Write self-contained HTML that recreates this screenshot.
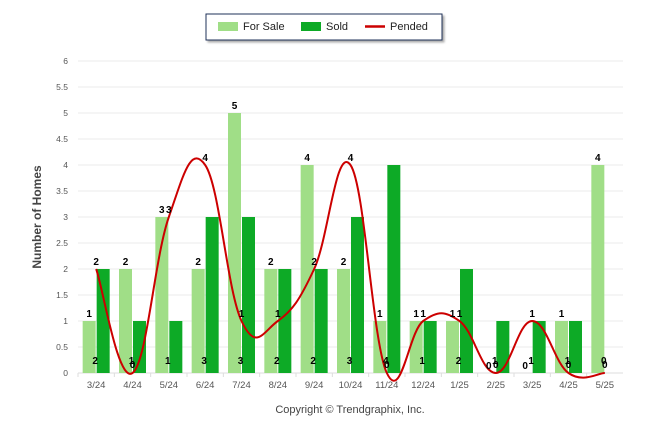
<!DOCTYPE html>
<html><head><meta charset="utf-8"><style>
body{margin:0;background:#fff;font-family:"Liberation Sans",sans-serif}
svg text{font-family:"Liberation Sans",sans-serif}
</style></head><body>
<svg id="c" width="646" height="434">
<g>
<rect x="206" y="14" width="236" height="26" fill="#fff" stroke="#1f3158" stroke-width="1" filter="drop-shadow(2px 2px 1px #aaa)"/>
<rect x="218" y="22" width="20" height="9" fill="#a0de87"/>
<text x="243" y="30" font-size="11" fill="#222">For Sale</text>
<rect x="301" y="22" width="20" height="9" fill="#0daa26"/>
<text x="326" y="30" font-size="11" fill="#222">Sold</text>
<line x1="365" y1="26.5" x2="385" y2="26.5" stroke="#cc0000" stroke-width="2.5"/>
<text x="390" y="30" font-size="11" fill="#222">Pended</text>
</g>
<text transform="translate(41,217) rotate(-90)" text-anchor="middle" font-size="12" font-weight="bold" fill="#444">Number of Homes</text>
<text x="350" y="413" text-anchor="middle" font-size="11" fill="#444">Copyright © Trendgraphix, Inc.</text>
<g id="grid"></g><g id="bars"></g><g id="line"></g><g id="labels"></g>
</svg>
<script>
const categories=["3/24","4/24","5/24","6/24","7/24","8/24","9/24","10/24","11/24","12/24","1/25","2/25","3/25","4/25","5/25"];
const forSale=[1,2,3,2,5,2,4,2,1,1,1,0,0,1,4];
const sold=[2,1,1,3,3,2,2,3,4,1,2,1,1,1,0];
const pended=[2,0,3,4,1,1,2,4,0,1,1,0,1,0,0];
const yTicks=[0,0.5,1,1.5,2,2.5,3,3.5,4,4.5,5,5.5,6];
const NS="http://www.w3.org/2000/svg";
const X0=78,X1=623,Y0=373,YU=52;
const step=(X1-X0)/categories.length;
const xc=i=>X0+step*(i+0.5);
const y=v=>Y0-v*YU;
function mk(tag,attrs,parent,txt){const e=document.createElementNS(NS,tag);for(const k in attrs)e.setAttribute(k,attrs[k]);if(txt!==undefined)e.textContent=txt;document.getElementById(parent).appendChild(e);return e;}
yTicks.forEach(t=>{
 const l=mk('line',{x1:X0,x2:X1,y1:y(t),y2:y(t),stroke:t===0?'#ddd':'#ebebeb'},'grid');
 
 
 const tx=mk('text',{x:68,y:y(t)+3,'text-anchor':'end','font-size':'8.5',fill:'#555'},'grid',String(t));
 
 
});
categories.forEach((c,i)=>{
 const tk=mk('line',{x1:X0+step*i,x2:X0+step*i,y1:Y0,y2:Y0+4,stroke:'#ddd'},'grid');
 
 
 const tx=mk('text',{x:xc(i),y:388,'text-anchor':'middle','font-size':'9.5',fill:'#555'},'grid',c);
 
 
 const bw=13;
 const b1=mk('rect',{x:xc(i)-bw-0.5,y:y(forSale[i]),width:bw,height:forSale[i]*YU,fill:'#a0de87'},'bars');
 
 
 const b2=mk('rect',{x:xc(i)+0.5,y:y(sold[i]),width:bw,height:sold[i]*YU,fill:'#0daa26'},'bars');
 
 
 const l1=mk('text',{x:xc(i)-7,y:y(forSale[i])-4,'text-anchor':'middle','font-size':'10','font-weight':'bold',fill:'#000'},'labels',String(forSale[i]));
 
 
 const l2=mk('text',{x:xc(i)-1,y:364,'text-anchor':'middle','font-size':'10','font-weight':'bold',fill:'#000'},'labels',String(sold[i]));
 
 
 const l3=mk('text',{x:xc(i),y:pended[i]===0?368:y(pended[i])-4,'text-anchor':'middle','font-size':'10','font-weight':'bold',fill:'#000'},'labels',String(pended[i]));
 
 
});
const pts=pended.map((v,i)=>[xc(i),y(v)]);
let d=`M${pts[0][0]},${pts[0][1]}`;
for(let i=0;i<pts.length-1;i++){
 const p0=pts[Math.max(0,i-1)],p1=pts[i],p2=pts[i+1],p3=pts[Math.min(pts.length-1,i+2)];
 const t=1/6*1.2;
 d+=` C${p1[0]+(p2[0]-p0[0])*t},${p1[1]+(p2[1]-p0[1])*t} ${p2[0]-(p3[0]-p1[0])*t},${p2[1]-(p3[1]-p1[1])*t} ${p2[0]},${p2[1]}`;
}
const path=mk('path',{d:d,fill:'none',stroke:'#cc0000','stroke-width':2},'line');


</script>
</body></html>
